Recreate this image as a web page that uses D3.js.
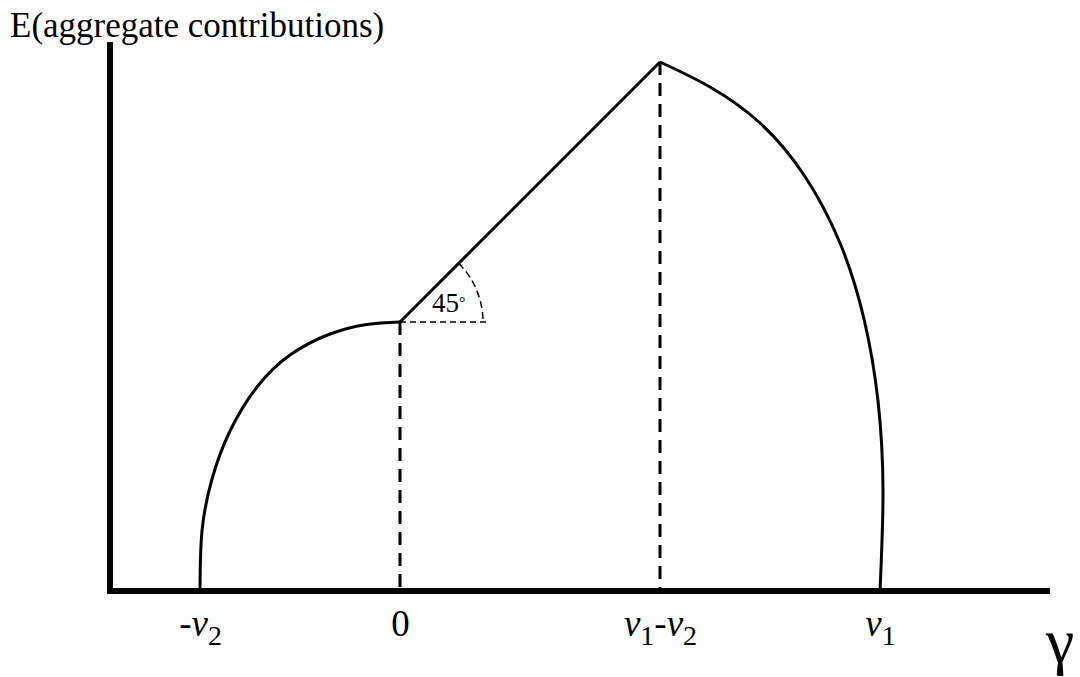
<!DOCTYPE html>
<html>
<head>
<meta charset="utf-8">
<script src="https://cdn.jsdelivr.net/npm/d3@7"></script>
<style>
  body { margin: 0; background: #fff; }
  svg { display: block; font-family: "Liberation Serif", "Times New Roman", serif; }
</style>
</head>
<body>
<svg id="chart" width="1080" height="677"></svg>
<script>
// gamma positions of the marked points (-v2, 0, v1-v2, v1)
const tickValues = [-1, 0, 1.3, 2.4];
const tickLabels = ["-v_2", "0", "v_1-v_2", "v_1"];

// expected aggregate contributions
const leftCurve = [
  [-1, 0], [-0.99, 0.3], [-0.94, 0.56], [-0.85, 0.8], [-0.715, 1.02],
  [-0.55, 1.18], [-0.35, 1.285], [-0.165, 1.333], [0, 1.345]
];
const slopeLine = [[0, 1.345], [1.3, 2.645]];
const rightCurve = [
  [1.3, 2.645], [1.55, 2.52], [1.8, 2.34], [2.02, 2.08],
  [2.2, 1.74], [2.32, 1.36], [2.39, 0.95], [2.415, 0.5], [2.4, 0]
];
const dropLines = [[0, 1.345], [1.3, 2.645]];
const angleRadius = 0.415;
const angleLabel = "45";

const yTitle = "E(aggregate contributions)";
const xTitle = "γ";

const svg = d3.select("#chart");

const x = d3.scaleLinear().domain([-1.45, 3.25]).range([110, 1050]);
const y = d3.scaleLinear().domain([0, 2.745]).range([591, 42]);

// axes
const xAxis = svg.append("g")
  .attr("transform", `translate(0,${y(0)})`)
  .call(d3.axisBottom(x).tickValues(tickValues).tickSize(0).tickSizeOuter(0).tickPadding(0));
xAxis.select(".domain").attr("stroke", "#000").attr("stroke-width", 6)
  .attr("d", `M${x.range()[0] - 3},0H${x.range()[1]}`);

const yAxis = svg.append("g")
  .attr("transform", `translate(${x(-1.45)},0)`)
  .call(d3.axisLeft(y).tickValues([]).tickSize(0).tickSizeOuter(0));
yAxis.select(".domain").attr("stroke", "#000").attr("stroke-width", 6)
  .attr("d", `M0,${y.range()[1]}V${y(0) + 3}`);

// tick labels with italic v and subscripts
xAxis.selectAll(".tick text").each(function (d, i) {
  const t = d3.select(this)
    .attr("y", 45).attr("dy", null)
    .attr("fill", "#000")
    .style("font-family", "'Liberation Serif', serif")
    .style("font-size", "37px")
    .text(null);
  const parts = tickLabels[i].match(/_\d|v|[^v_]+/g);
  let sub = false;
  parts.forEach((p) => {
    if (p.startsWith("_")) {
      t.append("tspan").attr("dy", 9).style("font-size", "28px").text(p.slice(1));
      sub = true;
    } else {
      const s = t.append("tspan").attr("dy", sub ? -9 : 0).text(p);
      if (p === "v") s.style("font-style", "italic");
      sub = false;
    }
  });
});

const line = d3.line().x((d) => x(d[0])).y((d) => y(d[1]));

// dashed drop lines
svg.append("g")
  .selectAll("line")
  .data(dropLines)
  .join("line")
  .attr("x1", (d) => x(d[0]))
  .attr("x2", (d) => x(d[0]))
  .attr("y1", (d) => y(d[1]))
  .attr("y2", y(0))
  .attr("stroke", "#000")
  .attr("stroke-width", 3)
  .attr("stroke-dasharray", "13,8");

// 45 degree marker
const r = x(angleRadius) - x(0);
const ox = x(slopeLine[0][0]), oy = y(slopeLine[0][1]);
svg.append("line")
  .attr("x1", ox).attr("y1", oy)
  .attr("x2", x(0.45)).attr("y2", oy)
  .attr("stroke", "#000").attr("stroke-width", 1.5)
  .attr("stroke-dasharray", "6,4");
const arcPath = d3.path();
arcPath.arc(ox, oy, r, -Math.PI / 4, 0);
svg.append("path")
  .attr("d", arcPath.toString())
  .attr("fill", "none")
  .attr("stroke", "#000").attr("stroke-width", 1.5)
  .attr("stroke-dasharray", "7,4");
const al = svg.append("text")
  .attr("x", ox + 32).attr("y", oy - 10)
  .style("font-size", "27px")
  .text(angleLabel);
al.append("tspan").attr("dy", -4).style("font-size", "16px").text("°");

// curves
const curves = [
  { pts: leftCurve, curve: d3.curveNatural },
  { pts: slopeLine, curve: d3.curveLinear },
  { pts: rightCurve, curve: d3.curveNatural }
];
svg.append("g")
  .selectAll("path")
  .data(curves)
  .join("path")
  .attr("d", (d) => line.curve(d.curve)(d.pts))
  .attr("fill", "none")
  .attr("stroke", "#000")
  .attr("stroke-width", 3)
  .attr("stroke-linejoin", "miter");

// titles
svg.append("text")
  .attr("x", 10).attr("y", 37)
  .style("font-size", "35px")
  .text(yTitle);
svg.append("text")
  .attr("x", 1046).attr("y", 662)
  .style("font-size", "64px")
  .text(xTitle);
</script>
</body>
</html>
